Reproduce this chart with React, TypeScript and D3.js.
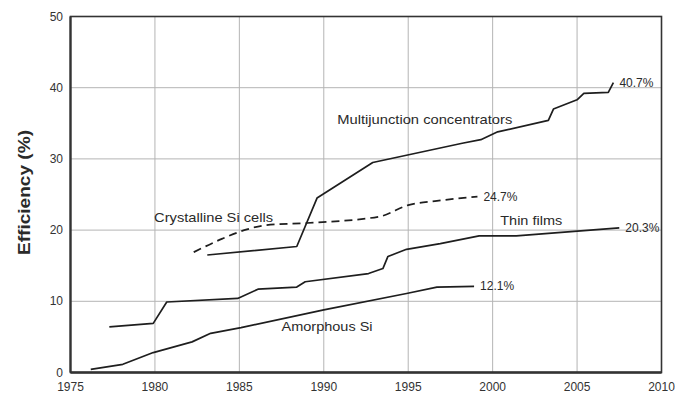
import React from "react";
import * as d3 from "d3";

const WIDTH = 675;
const HEIGHT = 396;

const xTicks = [1975, 1980, 1985, 1990, 1995, 2000, 2005, 2010];
const yTicks = [0, 10, 20, 30, 40, 50];

// Multijunction concentrators
const multiYears = [1983.1, 1988.4, 1989.6, 1992.9, 1998.2, 1999.3, 2000.3, 2003.3, 2003.6, 2005.0, 2005.4, 2006.85, 2007.15];
const multiEff = [16.5, 17.7, 24.5, 29.5, 32.2, 32.7, 33.8, 35.4, 37.0, 38.3, 39.2, 39.35, 40.7];

// Crystalline Si cells (dashed)
const crystYears = [1982.3, 1984.0, 1985.45, 1986.6, 1989.0, 1993.3, 1995.0, 1996.7, 1999.1];
const crystEff = [16.9, 18.8, 20.1, 20.7, 21.0, 21.9, 23.5, 24.1, 24.7];

// Thin films
const thinYears = [1977.3, 1979.9, 1980.7, 1984.9, 1986.1, 1988.4, 1988.9, 1992.65, 1993.5, 1993.8, 1994.9, 1996.9, 1999.2, 2001.4, 2007.5];
const thinEff = [6.4, 6.9, 9.9, 10.4, 11.7, 12.0, 12.75, 13.9, 14.6, 16.3, 17.3, 18.1, 19.2, 19.2, 20.3];

// Amorphous Si
const amorYears = [1976.2, 1978.1, 1979.9, 1982.2, 1983.3, 1985.1, 1990.0, 1994.9, 1996.7, 1998.9];
const amorEff = [0.45, 1.15, 2.8, 4.3, 5.5, 6.3, 8.8, 11.1, 12.0, 12.1];

const seriesNames = ["Multijunction concentrators", "Crystalline Si cells", "Thin films", "Amorphous Si"];
const recordLabels = ["40.7%", "24.7%", "20.3%", "12.1%"];

const FONT = "'Liberation Sans', Arial, Helvetica, sans-serif";

export default function App() {
  const x = d3.scaleLinear().domain([1975, 2010]).range([70.5, 661.5]);
  const y = d3.scaleLinear().domain([0, 50]).range([372.5, 16.5]);

  const zip = (xs: number[], ys: number[]) => xs.map((v, i) => [v, ys[i]] as [number, number]);

  const straight = d3
    .line<[number, number]>()
    .x((d) => x(d[0]))
    .y((d) => y(d[1]));
  const smooth = d3
    .line<[number, number]>()
    .x((d) => x(d[0]))
    .y((d) => y(d[1]))
    .curve(d3.curveMonotoneX);

  const multi = zip(multiYears, multiEff);
  const cryst = zip(crystYears, crystEff);
  const thin = zip(thinYears, thinEff);
  const amor = zip(amorYears, amorEff);

  // Series name annotations, placed in data space
  const nameSpots = [
    { text: seriesNames[0], yr: 1990.8, v: 35.55, len: 175 },
    { text: seriesNames[1], yr: 1979.95, v: 21.8, len: 119 },
    { text: seriesNames[2], yr: 2000.45, v: 21.3, len: 62 },
    { text: seriesNames[3], yr: 1987.5, v: 6.5, len: 91 },
  ];

  const ends = [multi, cryst, thin, amor].map((s) => s[s.length - 1]);

  const [x0, x1] = x.range();
  const [yBottom, yTop] = y.range();

  return (
    <svg
      width={WIDTH}
      height={HEIGHT}
      style={{ position: "absolute", left: 0, top: 0, background: "#fff" }}
      fontFamily={FONT}
    >
      {/* grid */}
      <g stroke="#b4b4b4" strokeWidth={1}>
        {xTicks.map((t) => (
          <line key={"gx" + t} x1={x(t)} x2={x(t)} y1={yTop} y2={yBottom} />
        ))}
        {yTicks.map((t) => (
          <line key={"gy" + t} x1={x0} x2={x1} y1={y(t)} y2={y(t)} />
        ))}
      </g>

      {/* frame */}
      <rect x={x0} y={yTop} width={x1 - x0} height={yBottom - yTop} fill="none" stroke="#333" strokeWidth={1.6} />
      <line x1={x0} x2={x1} y1={yBottom} y2={yBottom} stroke="#333" strokeWidth={2.4} />
      <line x1={x0} x2={x0} y1={yTop} y2={yBottom} stroke="#333" strokeWidth={2.2} />

      {/* tick labels */}
      <g fontSize={12} fill="#333">
        {xTicks.map((t) => (
          <text key={"tx" + t} x={x(t)} y={391} textAnchor="middle">
            {t}
          </text>
        ))}
        {yTicks.map((t) => (
          <text key={"ty" + t} x={63} y={y(t)} textAnchor="end" dominantBaseline="central">
            {t}
          </text>
        ))}
      </g>

      <text
        transform={`translate(24,${(yTop + yBottom) / 2 - 2}) rotate(-90)`}
        textAnchor="middle"
        dominantBaseline="central"
        fontSize={17}
        fontWeight="bold"
        fill="#2a2a2a"
        textLength={125}
        lengthAdjust="spacingAndGlyphs"
      >
        Efficiency (%)
      </text>

      {/* series */}
      <g fill="none" stroke="#1e1e1e" strokeWidth={1.7} strokeLinejoin="round">
        <path d={straight(multi) || ""} />
        <path d={smooth(cryst) || ""} strokeDasharray="8,5" />
        <path d={straight(thin) || ""} />
        <path d={straight(amor) || ""} />
      </g>

      {/* series names */}
      <g fontSize={13.5} fill="#2a2a2a">
        {nameSpots.map((n) => (
          <text
            key={n.text}
            x={x(n.yr)}
            y={y(n.v)}
            dominantBaseline="central"
            textLength={n.len}
            lengthAdjust="spacingAndGlyphs"
          >
            {n.text}
          </text>
        ))}
      </g>

      {/* record values at line ends */}
      <g fontSize={12} fill="#2a2a2a">
        {ends.map((e, i) => (
          <text key={recordLabels[i]} x={x(e[0]) + 6} y={y(e[1])} dominantBaseline="central">
            {recordLabels[i]}
          </text>
        ))}
      </g>
    </svg>
  );
}
